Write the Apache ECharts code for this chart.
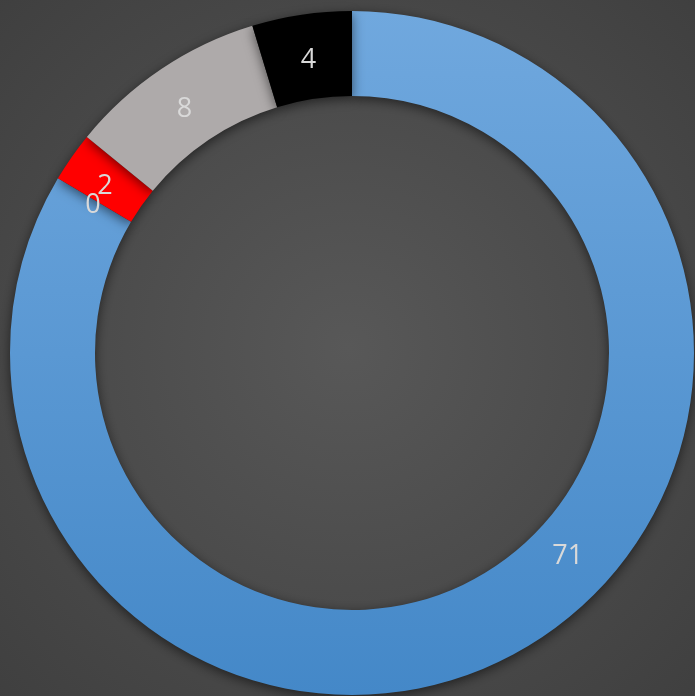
<!DOCTYPE html>
<html>
<head>
<meta charset="utf-8">
<script src="https://cdn.jsdelivr.net/npm/echarts@6/dist/echarts.min.js"></script>
<style>
  html, body { margin: 0; padding: 0; }
  #chart { width: 695px; height: 696px; }
</style>
</head>
<body>
<div id="chart"></div>
<script>
  // data, clockwise from 12 o'clock
  var names = ['A', 'B', 'C', 'D', 'E'];
  var values = [71, 0, 2, 8, 4];

  var blueFill = new echarts.graphic.LinearGradient(0, 0, 0, 1, [
    { offset: 0, color: '#70a8de' },
    { offset: 1, color: '#4488c8' }
  ]);
  var colors = [blueFill, '#5b9bd5', '#ff0000', '#aeaaaa', '#000000'];

  var myChart = echarts.init(document.getElementById('chart'));
  var seriesData = [];
  for (var i = 0; i < values.length; i++) {
    var item = { name: names[i], value: values[i], itemStyle: { color: colors[i] } };
    if (i === 0) {
      item.label = { offset: [66, -60] }; // Excel puts the big label off-centre
    }
    seriesData.push(item);
  }

  var option = {
    backgroundColor: {
      type: 'radial', x: 0.5, y: 0.5, r: 0.75,
      colorStops: [
        { offset: 0, color: '#585858' },
        { offset: 1, color: '#3e3e3e' }
      ]
    },
    animation: false,
    series: [{
      type: 'pie',
      center: [352, 353],
      radius: [257, 342],
      startAngle: 90,
      clockwise: true,
      avoidLabelOverlap: false,
      minShowLabelAngle: -1, // keep the label of the zero slice
      labelLayout: { hideOverlap: false },
      itemStyle: {
        shadowBlur: 12,
        shadowColor: 'rgba(0,0,0,0.55)',
        shadowOffsetY: 3
      },
      label: {
        show: true,
        position: 'inside',
        formatter: '{c}',
        color: '#d9d9d9',
        fontSize: 27,
        fontFamily: 'Open Sans',
        offset: [1, 7]
      },
      labelLine: { show: false },
      emphasis: { disabled: true },
      data: seriesData
    }]
  };
  myChart.setOption(option);
</script>
</body>
</html>
